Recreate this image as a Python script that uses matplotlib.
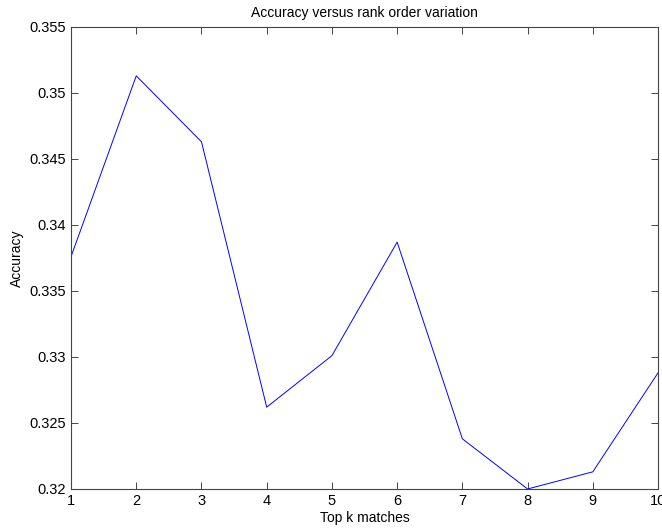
import numpy as np
import matplotlib
matplotlib.use('Agg')
import matplotlib.pyplot as plt

plt.rcParams['font.family'] = ['Liberation Sans', 'DejaVu Sans']

# top k matches vs accuracy
top_k = [1, 2, 3, 4, 5, 6, 7, 8, 9, 10]
accuracy = [0.3376, 0.3513, 0.3463, 0.3262, 0.3301, 0.3387, 0.3238, 0.3200, 0.3213, 0.3288]

fig = plt.figure(figsize=(6.62, 5.28), dpi=100)
ax = fig.add_axes([0.1073, 0.0739, 0.8867, 0.875])

ax.plot(top_k, accuracy, color='#0000ff', linewidth=0.7)

ax.set_xlim(1, 10)
ax.set_ylim(0.32, 0.355)
ax.set_xticks(range(1, 11))
ax.set_yticks([0.32, 0.325, 0.33, 0.335, 0.34, 0.345, 0.35, 0.355])
ax.set_yticklabels(['0.32', '0.325', '0.33', '0.335', '0.34', '0.345', '0.35', '0.355'])

ax.tick_params(direction='in', top=True, right=True, length=5, width=0.7,
               colors='#444444', labelcolor='black', labelsize=10.5)
for s in ax.spines.values():
   s.set_color('#444444')
   s.set_linewidth(0.8)

ax.set_title('Accuracy versus rank order variation', fontsize=10, pad=7)
ax.set_xlabel('Top k matches', fontsize=10, labelpad=2)
ax.set_ylabel('Accuracy', fontsize=10, labelpad=4)

fig.savefig('out.png', dpi=100)
